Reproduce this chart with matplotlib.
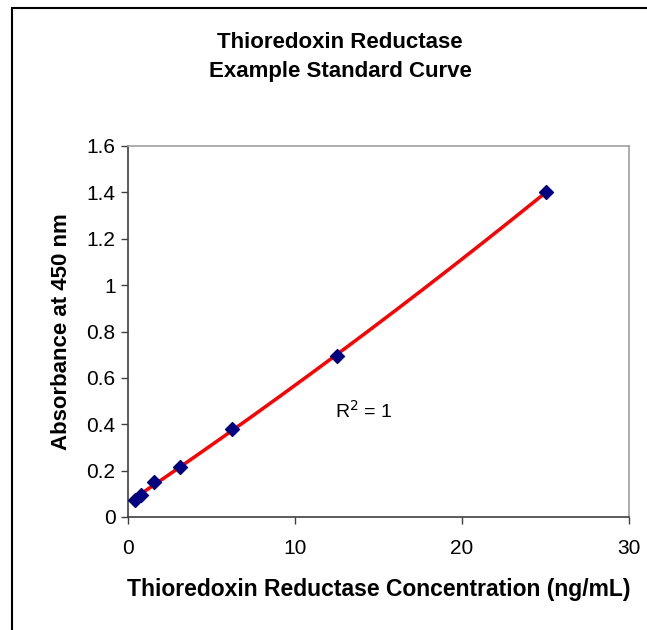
import numpy as np
import matplotlib
matplotlib.use("Agg")
import matplotlib.pyplot as plt
from matplotlib.patches import Rectangle

plt.rcParams['font.family'] = ['Liberation Sans', 'DejaVu Sans']

# standard curve data
conc = [0.39, 0.78, 1.5625, 3.125, 6.25, 12.5, 25]
absorbance = [0.075, 0.095, 0.15, 0.215, 0.38, 0.695, 1.40]
x_ticks = [0, 10, 20, 30]
y_ticks = [0, 0.2, 0.4, 0.6, 0.8, 1, 1.2, 1.4, 1.6]
y_tick_labels = ['0', '0.2', '0.4', '0.6', '0.8', '1', '1.2', '1.4', '1.6']

fig = plt.figure(figsize=(6.47, 6.30), dpi=100)
fig.patches.append(Rectangle((12 / 647, -0.05), 1.0, 1.05 - 8 / 630, transform=fig.transFigure,
                             fill=False, edgecolor='black', linewidth=1.5))

ax = fig.add_axes([128 / 647, 113 / 630, 501 / 647, 371 / 630])

# polynomial trendline
coef = np.polyfit(conc, absorbance, 2)
xs = np.linspace(conc[0], conc[-1], 200)
ax.plot(xs, np.polyval(coef, xs), color='#ff0000', linewidth=2.5, zorder=2)
ax.scatter(conc, absorbance, marker='D', s=50, color='#000080', zorder=3)

ax.text(12.4, 0.457, 'R$^2$ = 1', fontsize=14, va='center', ha='left')

ax.set_xlim(0, 30)
ax.set_ylim(0, 1.6)
ax.set_xticks(x_ticks)
ax.set_yticks(y_ticks)
ax.set_yticklabels(y_tick_labels)
ax.tick_params(axis='both', labelsize=15, length=5, width=1, color='#404040')
ax.tick_params(axis='y', pad=4)
ax.tick_params(axis='x', pad=11)

for s in ['left', 'bottom']:
    ax.spines[s].set_color('#404040')
    ax.spines[s].set_linewidth(1.2)
for s in ['top', 'right']:
    ax.spines[s].set_color('#a0a0a0')
    ax.spines[s].set_linewidth(1.2)

ax.set_xlabel('Thioredoxin Reductase Concentration (ng/mL)', fontsize=16.5,
              fontweight='bold', labelpad=14)
ax.set_ylabel('Absorbance at 450 nm', fontsize=16, fontweight='bold', labelpad=10)

fig.text(340 / 647, 1 - 57 / 630, 'Thioredoxin Reductase\nExample Standard Curve',
         ha='center', va='center', fontsize=16, fontweight='bold', linespacing=1.5)

fig.savefig('out.png', dpi=100)
